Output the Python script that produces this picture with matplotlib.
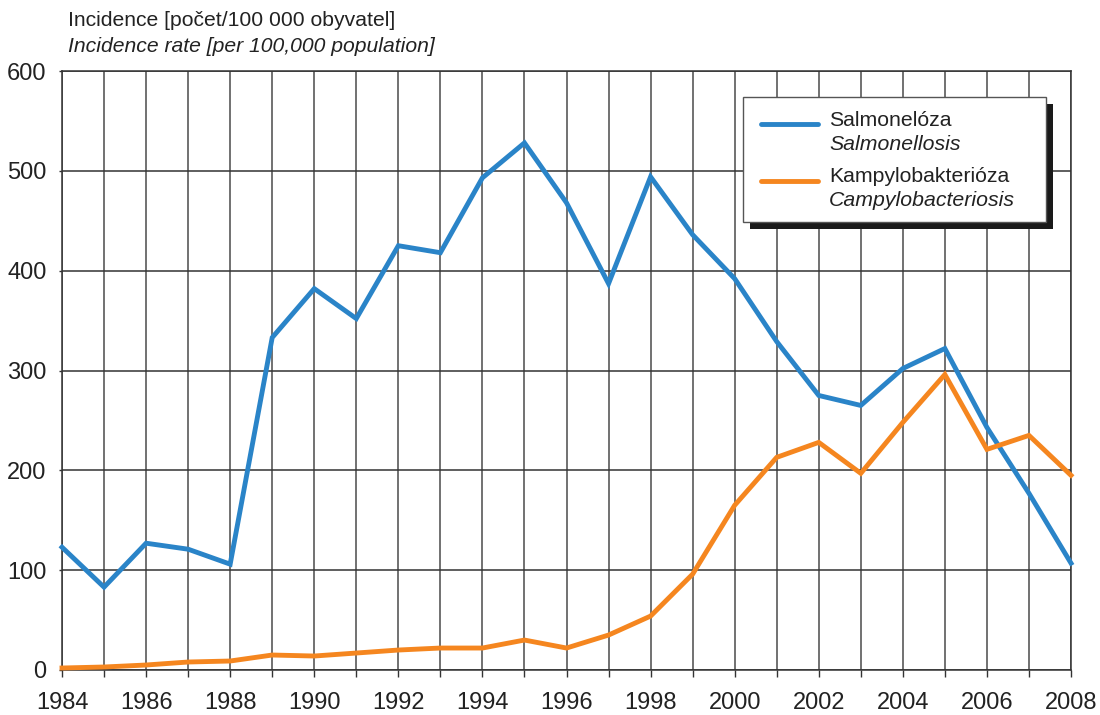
import matplotlib
matplotlib.use("Agg")
import matplotlib.pyplot as plt
from matplotlib.patches import Rectangle
from matplotlib.lines import Line2D

plt.rcParams['font.family'] = ['Liberation Sans', 'DejaVu Sans']

years = list(range(1984, 2009))
salmonella = [123, 83, 127, 121, 106, 333, 382, 352, 425, 418, 493, 528, 468, 387,
              494, 436, 392, 329, 275, 265, 302, 322, 243, 177, 107]
campylo = [2, 3, 5, 8, 9, 15, 14, 17, 20, 22, 22, 30, 22, 35,
           54, 96, 165, 213, 228, 197, 248, 296, 221, 235, 195]
xticks = list(range(1984, 2009, 2))
yticks = [0, 100, 200, 300, 400, 500, 600]
blue = '#2a84c8'
orange = '#f5861f'

W, H = 1100, 715
fig = plt.figure(figsize=(W / 100, H / 100), dpi=100)
L, R, T, B = 62, 1071, 71, 670
ax = fig.add_axes([L / W, 1 - B / H, (R - L) / W, (B - T) / H])

ax.plot(years, salmonella, color=blue, lw=3.5, solid_joinstyle='miter', zorder=3, clip_on=False)
ax.plot(years, campylo, color=orange, lw=3.5, solid_joinstyle='miter', zorder=3, clip_on=False)

ax.set_xlim(1984, 2008)
ax.set_ylim(0, 600)
ax.set_xticks(xticks)
ax.set_xticks(years, minor=True)
ax.set_yticks(yticks)
ax.tick_params(axis='x', which='both', length=5, width=1, color='#333333', pad=11, labelsize=17)
ax.tick_params(axis='y', length=2, width=1, color='#333333', pad=9, labelsize=17)
for lab in ax.get_xticklabels() + ax.get_yticklabels():
    lab.set_color('#222222')
ax.grid(True, axis='x', which='both', color='#4a4a4a', lw=1.1, zorder=1)
ax.grid(True, axis='y', color='#333333', lw=1.1, zorder=1)
for s in ax.spines.values():
    s.set_color('#333333')
    s.set_linewidth(1.1)

fig.text(68 / W, 1 - 21 / H, 'Incidence [počet/100 000 obyvatel]', fontsize=15.2,
         color='#222222', ha='left', va='center')
fig.text(68 / W, 1 - 46 / H, 'Incidence rate [per 100,000 population]', fontsize=15.2,
         style='italic', color='#222222', ha='left', va='center')

# legend (manual, with drop shadow)
def fx(px):
    return px / W

def fy(py):
    return 1 - py / H

lx0, lx1, ly0, ly1 = 743, 1046, 97, 222
sh = 7
fig.add_artist(Rectangle((fx(lx0 + sh), fy(ly1 + sh)), fx(lx1 - lx0), (ly1 - ly0) / H,
                         transform=fig.transFigure, facecolor='#1a1a1a', edgecolor='none', zorder=5))
fig.add_artist(Rectangle((fx(lx0), fy(ly1)), fx(lx1 - lx0), (ly1 - ly0) / H,
                         transform=fig.transFigure, facecolor='white', edgecolor='#555555',
                         lw=1.0, zorder=6))
for c, yy in [(blue, 124), (orange, 181)]:
    fig.add_artist(Line2D([fx(761), fx(818)], [fy(yy), fy(yy)], transform=fig.transFigure,
                          color=c, lw=3.5, solid_capstyle='round', zorder=7))
legtexts = [('Salmonelóza', 'normal', 121), ('Salmonellosis', 'italic', 144),
            ('Kampylobakterióza', 'normal', 177), ('Campylobacteriosis', 'italic', 200)]
for t, st, yy in legtexts:
    fig.text(fx(829), fy(yy), t, style=st, fontsize=15.3, color='#222222',
             ha='left', va='center', zorder=8)

fig.savefig('out.png', dpi=100)
